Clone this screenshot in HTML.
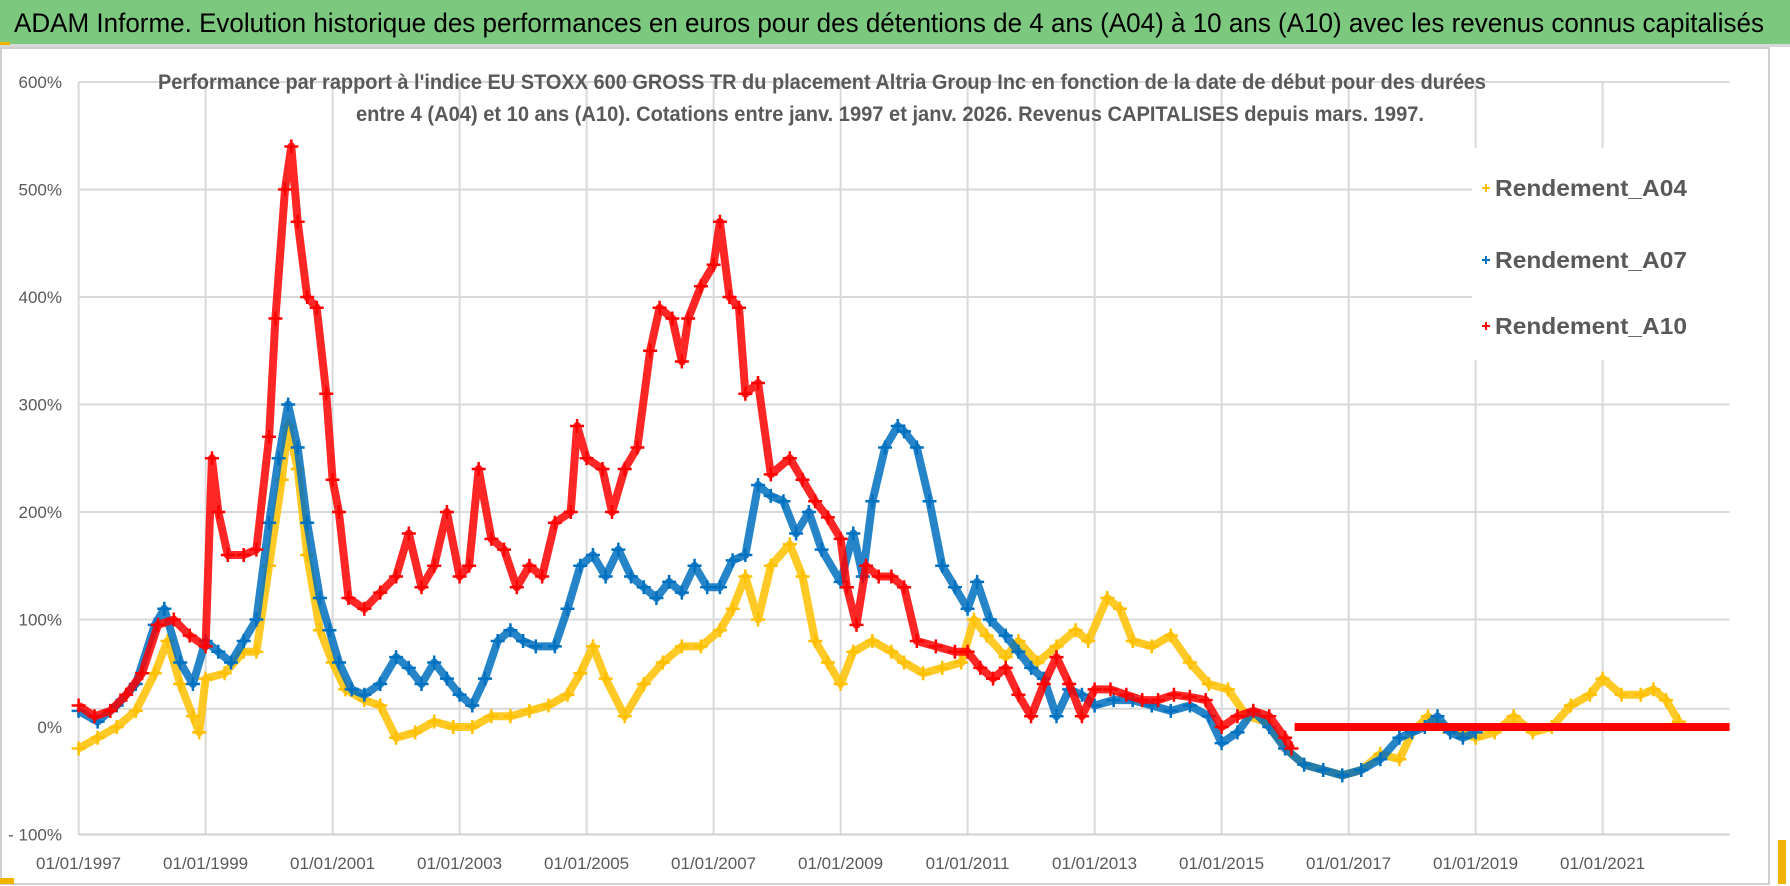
<!DOCTYPE html>
<html><head><meta charset="utf-8"><style>
html,body{margin:0;padding:0;background:#fff;}
svg{display:block;font-family:"Liberation Sans Narrow","Liberation Sans",sans-serif;}
</style></head><body>
<svg id="chart" width="1790" height="886" viewBox="0 0 1790 886" xmlns="http://www.w3.org/2000/svg">
<rect x="0" y="0" width="1790" height="886" fill="#fff"/>
<rect x="0" y="0" width="1790" height="44" fill="#7cc87e"/>
<rect x="0" y="44" width="1790" height="3" fill="#d8d8d8"/>
<rect x="0" y="42" width="10" height="3" fill="#f0b400"/>
<text x="14" y="32" font-size="27" fill="#000" textLength="1750" lengthAdjust="spacingAndGlyphs">ADAM Informe. Evolution historique des performances en euros pour des détentions de 4 ans (A04) à 10 ans (A10) avec les revenus connus capitalisés</text>
<rect x="1" y="48" width="1768" height="836" fill="none" stroke="#bfbfbf" stroke-width="1.5"/>
<g id="grid"></g>
<g id="axes"></g>
<text x="822" y="89" font-size="21" font-weight="bold" fill="#595959" text-anchor="middle" textLength="1328" lengthAdjust="spacingAndGlyphs">Performance par rapport à l'indice EU STOXX 600 GROSS TR  du placement Altria Group Inc en fonction de la date de début pour des durées</text>
<text x="890" y="121" font-size="21" font-weight="bold" fill="#595959" text-anchor="middle" textLength="1068" lengthAdjust="spacingAndGlyphs">entre 4 (A04) et 10 ans (A10). Cotations entre janv. 1997 et janv. 2026. Revenus CAPITALISES depuis mars. 1997.</text>
<g id="series"></g>
<g>
<rect x="1472" y="148" width="264" height="212" fill="#fff"/>
<g>
<path d="M1482 188h8M1486 184v8" stroke="#ffc000" stroke-width="2"/>
<text x="1495" y="196" font-size="23" font-weight="bold" fill="#595959" textLength="192" lengthAdjust="spacingAndGlyphs">Rendement_A04</text></g>
<g>
<path d="M1482 260h8M1486 256v8" stroke="#0070c0" stroke-width="2"/>
<text x="1495" y="268" font-size="23" font-weight="bold" fill="#595959" textLength="192" lengthAdjust="spacingAndGlyphs">Rendement_A07</text></g>
<g>
<path d="M1482 326h8M1486 322v8" stroke="#ff0000" stroke-width="2"/>
<text x="1495" y="334" font-size="23" font-weight="bold" fill="#595959" textLength="192" lengthAdjust="spacingAndGlyphs">Rendement_A10</text></g>
</g>
<rect x="1778" y="840" width="8" height="44" fill="#f0b400"/>
<rect x="0" y="878" width="14" height="6" fill="#f0b400"/>
</svg>
<script>
const yearTicks = [1997,1999,2001,2003,2005,2007,2009,2011,2013,2015,2017,2019,2021];
const yTickValues = [600,500,400,300,200,100,0,-100];
const yTickLabels = ["600%","500%","400%","300%","200%","100%","0%","- 100%"];
const a04Years = [1997,1997.3,1997.6,1997.9,1998.2,1998.4,1998.6,1998.8,1998.9,1999,1999.3,1999.6,1999.8,2000,2000.2,2000.3,2000.45,2000.6,2000.8,2001,2001.2,2001.5,2001.75,2002,2002.3,2002.6,2002.9,2003.2,2003.5,2003.8,2004.1,2004.4,2004.7,2004.9,2005.1,2005.3,2005.6,2005.9,2006.2,2006.5,2006.8,2007.1,2007.3,2007.5,2007.7,2007.9,2008.2,2008.4,2008.6,2008.8,2009,2009.2,2009.5,2009.8,2010,2010.3,2010.6,2010.9,2011.1,2011.3,2011.6,2011.8,2012.1,2012.4,2012.7,2012.9,2013.2,2013.4,2013.6,2013.9,2014.2,2014.5,2014.8,2015.1,2015.4,2015.7,2016,2016.3,2016.6,2016.9,2017.2,2017.5,2017.8,2018,2018.25,2018.5,2018.75,2019,2019.3,2019.6,2019.9,2020.2,2020.5,2020.8,2021,2021.3,2021.6,2021.8,2022,2022.2];
const a04Values = [-20,-10,0,15,50,80,40,10,-5,45,50,70,70,150,230,280,240,160,90,60,35,25,20,-10,-5,5,0,0,10,10,15,20,30,50,75,45,10,40,60,75,75,90,110,140,100,150,170,140,80,60,40,70,80,70,60,50,55,60,100,85,65,80,60,75,90,80,120,110,80,75,85,60,40,35,10,5,-20,-35,-40,-45,-40,-25,-30,-5,10,0,-5,-10,-5,10,-5,0,20,30,45,30,30,35,25,5];
const a07Years = [1997,1997.3,1997.6,1997.9,1998.2,1998.35,1998.6,1998.8,1999,1999.2,1999.4,1999.6,1999.8,2000,2000.15,2000.3,2000.45,2000.6,2000.8,2000.95,2001.1,2001.3,2001.5,2001.75,2002,2002.2,2002.4,2002.6,2002.8,2003,2003.2,2003.4,2003.6,2003.8,2004,2004.2,2004.5,2004.7,2004.9,2005.1,2005.3,2005.5,2005.7,2005.9,2006.1,2006.3,2006.5,2006.7,2006.9,2007.1,2007.3,2007.5,2007.7,2007.9,2008.1,2008.3,2008.5,2008.7,2009,2009.2,2009.35,2009.5,2009.7,2009.9,2010,2010.2,2010.4,2010.6,2010.8,2011,2011.15,2011.35,2011.6,2011.8,2012,2012.2,2012.4,2012.6,2012.8,2013,2013.3,2013.6,2013.9,2014.2,2014.5,2014.8,2015,2015.25,2015.5,2015.75,2016,2016.3,2016.6,2016.9,2017.2,2017.5,2017.8,2018,2018.2,2018.4,2018.6,2018.8,2019];
const a07Values = [15,5,20,40,95,110,60,40,80,70,60,80,100,190,250,300,260,190,120,90,60,35,30,40,65,55,40,60,45,30,20,45,80,90,80,75,75,110,150,160,140,165,140,130,120,135,125,150,130,130,155,160,225,215,210,180,200,165,135,180,140,210,260,280,275,260,210,150,130,110,135,100,85,70,55,45,10,35,30,20,25,25,20,15,20,10,-15,-5,15,0,-20,-35,-40,-45,-40,-30,-10,-5,0,10,-5,-10,-5];
const a10Years = [1997,1997.25,1997.5,1997.75,1998,1998.25,1998.5,1998.75,1999,1999.1,1999.2,1999.35,1999.6,1999.8,2000,2000.1,2000.25,2000.35,2000.45,2000.6,2000.75,2000.9,2001,2001.1,2001.25,2001.5,2001.75,2002,2002.2,2002.4,2002.6,2002.8,2003,2003.15,2003.3,2003.5,2003.7,2003.9,2004.1,2004.3,2004.5,2004.75,2004.85,2005,2005.25,2005.4,2005.6,2005.8,2006,2006.15,2006.35,2006.5,2006.6,2006.8,2007,2007.1,2007.25,2007.4,2007.5,2007.7,2007.9,2008.2,2008.4,2008.6,2008.8,2009,2009.1,2009.25,2009.4,2009.6,2009.8,2010,2010.2,2010.5,2010.8,2011,2011.2,2011.4,2011.6,2011.8,2012,2012.2,2012.4,2012.6,2012.8,2013,2013.25,2013.5,2013.75,2014,2014.25,2014.5,2014.75,2015,2015.25,2015.5,2015.75,2016,2016.1];
const a10Values = [20,10,15,30,50,95,100,85,75,250,200,160,160,165,270,380,500,540,470,400,390,310,230,200,120,110,125,140,180,130,150,200,140,150,240,175,165,130,150,140,190,200,280,250,240,200,240,260,350,390,380,340,380,410,430,470,400,390,310,320,235,250,230,210,195,175,130,95,150,140,140,130,80,75,70,70,55,45,55,30,10,40,65,40,10,35,35,30,25,25,30,28,25,0,10,15,10,-10,-20];
const a10FlatStart = 2016.15, a10FlatEnd = 2023.0, a10FlatValue = 0;

const X0=78.6, PX_YEAR=63.5, Y0=727, PX_PCT=1.075;
function xScale(yr){return X0+(yr-1997)*PX_YEAR;}
function yScale(v){return Y0-v*PX_PCT;}
const NS="http://www.w3.org/2000/svg";
function mk(tag,attrs,parent){const e=document.createElementNS(NS,tag);for(const k in attrs)e.setAttribute(k,attrs[k]);parent.appendChild(e);return e;}
const grid=document.getElementById('grid'), axes=document.getElementById('axes'), series=document.getElementById('series');
const left=xScale(1997), right=xScale(2023);
const hGrid=[600,500,400,300,200,100,17];
hGrid.forEach(v=>{const l=mk('line',{x1:left,x2:right,y1:yScale(v),y2:yScale(v),stroke:'#d9d9d9','stroke-width':2},grid);

});
yearTicks.forEach(yr=>{const l=mk('line',{x1:xScale(yr),x2:xScale(yr),y1:yScale(600),y2:yScale(-100),stroke:'#d9d9d9','stroke-width':2},grid);

});
const bx=mk('line',{x1:left,x2:right,y1:yScale(-100),y2:yScale(-100),stroke:'#d0d0d0','stroke-width':2},axes);


yTickValues.forEach((v,i)=>{const t=mk('text',{x:62,y:yScale(v)+6,'font-size':17,fill:'#595959','text-anchor':'end'},axes);t.textContent=yTickLabels[i];

});
yearTicks.forEach(yr=>{const t=mk('text',{x:xScale(yr),y:869,'font-size':17,fill:'#595959','text-anchor':'middle'},axes);t.textContent='01/01/'+yr;

});
function drawSeries(years,vals,color,name){
  const g=mk('g',{},series);
  
  
  const pts=years.map((yr,i)=>xScale(yr).toFixed(1)+','+yScale(vals[i]).toFixed(1)).join(' ');
  const pl=mk('polyline',{points:pts,fill:'none',stroke:color,'stroke-width':8,'stroke-linejoin':'round','stroke-opacity':0.85},g);
  
  
  years.forEach((yr,i)=>{const x=xScale(yr),y=yScale(vals[i]);
    const p=mk('path',{d:`M${x-7} ${y}h14M${x} ${y-7}v14`,stroke:color,'stroke-width':2.5},g);
    
    });
}
drawSeries(a04Years,a04Values,'#ffc000','series-a04');
drawSeries(a07Years,a07Values,'#0070c0','series-a07');
drawSeries(a10Years,a10Values,'#ff0000','series-a10');
const flat=mk('line',{x1:xScale(a10FlatStart),x2:xScale(a10FlatEnd),y1:yScale(a10FlatValue),y2:yScale(a10FlatValue),stroke:'#ff0000','stroke-width':8},series);


</script>
</body></html>
